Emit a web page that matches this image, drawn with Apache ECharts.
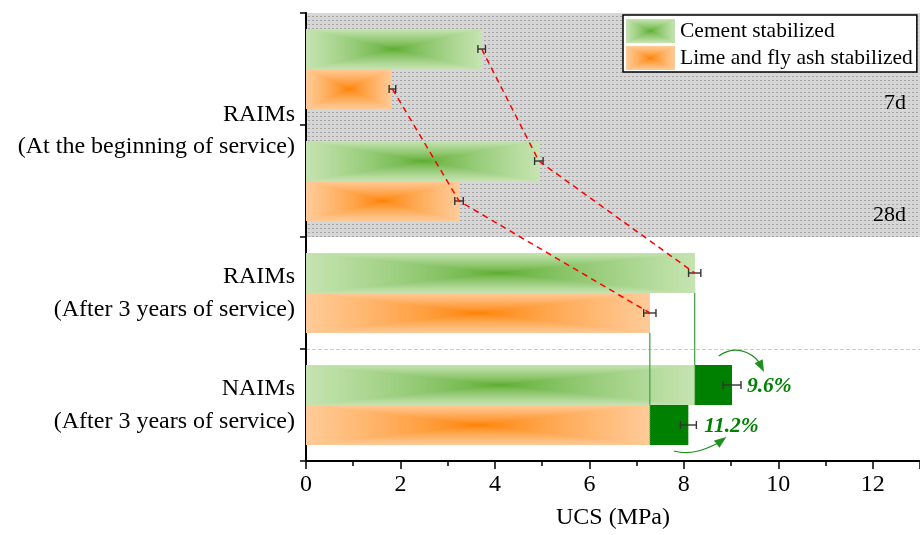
<!DOCTYPE html>
<html>
<head>
<meta charset="utf-8">
<script src="https://cdn.jsdelivr.net/npm/echarts@6/dist/echarts.min.js"></script>
<style>
  html, body { margin: 0; padding: 0; background: #fff; }
  #chart { width: 920px; height: 535px; }
</style>
</head>
<body>
<div id="chart"></div>
<script>
// ---- data ----
const categories = ['RAIMs 7d', 'RAIMs 28d', 'RAIMs 3 years', 'NAIMs 3 years'];
const categoryLabels = ['', '', 'RAIMs\n(After 3 years of service)', 'NAIMs\n(After 3 years of service)'];
const groupLabel = 'RAIMs\n(At the beginning of service)';
const curingAges = ['7d', '28d'];
const seriesNames = ['Cement stabilized', 'Lime and fly ash stabilized'];
const cementUCS = [3.72, 4.93, 8.23, 9.02];
const cementSD = [0.08, 0.09, 0.13, 0.19];
const limeUCS = [1.83, 3.24, 7.28, 8.095];
const limeSD = [0.07, 0.09, 0.13, 0.17];
// NAIMs (index 3) is compared with RAIMs after 3 years of service (index 2)
const compareWith = [null, null, null, 2];
const xMin = 0, xMax = 13, xStep = 2;

// ---- styling ----
const FONT = '"Liberation Serif", "Times New Roman", serif';
const BAR_FRAC = 0.357;          // each bar's share of a category band
const GAIN_GREEN = '#008000';
const palettes = [
  { center: [90, 172, 46], edge: [198, 228, 178] },   // cement
  { center: [255, 128, 0], edge: [255, 203, 153] }    // lime & fly ash
];

// rectangular (pyramid) gradient: darkest in the middle, fading to every edge
function boxGradient(pal, w, h) {
  const cv = document.createElement('canvas');
  cv.width = w; cv.height = h;
  const ctx = cv.getContext('2d');
  const img = ctx.createImageData(w, h);
  for (let y = 0; y < h; y++) {
    for (let x = 0; x < w; x++) {
      const u = Math.abs((x + 0.5) / w * 2 - 1);
      const v = Math.abs((y + 0.5) / h * 2 - 1);
      const t = Math.pow(Math.max(u, v), 0.75);
      const k = (y * w + x) * 4;
      for (let c = 0; c < 3; c++) {
        img.data[k + c] = Math.round(pal.center[c] + (pal.edge[c] - pal.center[c]) * t);
      }
      img.data[k + 3] = 255;
    }
  }
  ctx.putImageData(img, 0, 0);
  return cv;
}
const barImages = palettes.map(p => boxGradient(p, 240, 48));
const legendIcons = palettes.map(p => boxGradient(p, 49, 24).toDataURL());

// dotted grey fill for the early-age (7d / 28d) region
function dotPattern() {
  const cv = document.createElement('canvas');
  cv.width = 4; cv.height = 4;
  const ctx = cv.getContext('2d');
  ctx.fillStyle = '#d6d6d6';
  ctx.fillRect(0, 0, 4, 4);
  ctx.fillStyle = '#a4a4a4';
  ctx.fillRect(0, 0, 2, 1);
  return cv;
}
const dotFill = { image: dotPattern(), repeat: 'repeat' };

const materials = [
  { vals: cementUCS, sd: cementSD },
  { vals: limeUCS, sd: limeSD }
];

function seriesData(m) {
  const { vals, sd } = materials[m];
  return categories.map((_, i) => [
    i, vals[i], sd[i], compareWith[i] == null ? vals[i] : vals[compareWith[i]]
  ]);
}

// y pixel of a bar's top edge: cement sits above the band centre, lime below
function barTop(api, i, m) {
  const yc = api.coord([0, i])[1];
  const h = api.size([0, 1])[1] * BAR_FRAC;
  return { y: m === 0 ? yc - h : yc, h: h };
}

function errorBar(x1, x2, yc) {
  const cap = 4;
  const st = { stroke: '#333', lineWidth: 1.4 };
  return [
    { type: 'line', shape: { x1: x1, y1: yc, x2: x2, y2: yc }, style: st },
    { type: 'line', shape: { x1: x1, y1: yc - cap, x2: x1, y2: yc + cap }, style: st },
    { type: 'line', shape: { x1: x2, y1: yc - cap, x2: x2, y2: yc + cap }, style: st }
  ];
}

function barRenderer(m) {
  return function (params, api) {
    const i = api.value(0), val = api.value(1), sd = api.value(2), ref = api.value(3);
    const b = barTop(api, i, m);
    const x0 = api.coord([0, i])[0];
    const xRef = api.coord([ref, i])[0];
    const xVal = api.coord([val, i])[0];
    const children = [{
      type: 'image',
      style: { image: barImages[m], x: x0, y: b.y, width: xRef - x0, height: b.h }
    }];
    if (xVal - xRef > 0.5) {
      children.push({
        type: 'rect',
        shape: { x: xRef, y: b.y, width: xVal - xRef, height: b.h },
        style: { fill: GAIN_GREEN }
      });
    }
    const yc = b.y + b.h / 2;
    errorBar(api.coord([val - sd, i])[0], api.coord([val + sd, i])[0], yc)
      .forEach(e => children.push(e));
    return { type: 'group', children: children };
  };
}

// red dashed trend through the RAIMs means (7d -> 28d -> after 3 years)
function trendRenderer(params, api) {
  const m = api.value(0);
  const vals = materials[m].vals;
  const pts = [];
  for (let i = 0; i < 3; i++) {
    const b = barTop(api, i, m);
    pts.push([api.coord([vals[i], i])[0], b.y + b.h / 2]);
  }
  return {
    type: 'polyline',
    shape: { points: pts },
    style: { stroke: '#ff0000', lineWidth: 1.5, lineDash: [6, 4.5], fill: null }
  };
}

function arrowHead(tip, from, color) {
  const dx = tip[0] - from[0], dy = tip[1] - from[1];
  const len = Math.hypot(dx, dy);
  const ux = dx / len, uy = dy / len;
  const L = 12, W = 4.5;
  const bx = tip[0] - ux * L, by = tip[1] - uy * L;
  return {
    type: 'polygon',
    shape: { points: [tip, [bx - uy * W, by + ux * W], [bx + uy * W, by - ux * W]] },
    style: { fill: color }
  };
}

// labels, guide lines and gain arrows
function annotationRenderer(params, api) {
  const children = [];
  const xLeft = api.coord([xMin, 0])[0];
  const xRight = api.coord([xMax, 0])[0];
  const band = api.size([0, 1])[1];

  // group label spanning the 7d and 28d bands
  const yBoundary = (api.coord([0, 0])[1] + api.coord([0, 1])[1]) / 2;
  children.push({
    type: 'text',
    style: {
      text: groupLabel, x: xLeft - 11, y: yBoundary + 6,
      align: 'right', verticalAlign: 'middle',
      fontFamily: FONT, fontSize: 24, lineHeight: 32, fill: '#000'
    }
  });

  // curing age tags
  curingAges.forEach((t, i) => {
    children.push({
      type: 'text',
      style: {
        text: t, x: xRight - 14, y: api.coord([0, i])[1] + band * 0.305,
        align: 'right', verticalAlign: 'middle',
        fontFamily: FONT, fontSize: 22, fill: '#000'
      }
    });
  });

  // gains of NAIMs over RAIMs after 3 years
  categories.forEach((_, i) => {
    const r = compareWith[i];
    if (r == null) return;
    materials.forEach((mat, m) => {
      const gain = (mat.vals[i] / mat.vals[r] - 1) * 100;
      const xRef = api.coord([mat.vals[r], i])[0];
      const xVal = api.coord([mat.vals[i], i])[0];
      const xErr = api.coord([mat.vals[i] + mat.sd[i], i])[0];
      const bRef = barTop(api, r, m);
      const b = barTop(api, i, m);
      // projection of the RAIMs value down to the NAIMs bar
      children.push({
        type: 'line',
        shape: { x1: xRef, y1: bRef.y + bRef.h, x2: xRef, y2: b.y },
        style: { stroke: '#3f9f3f', lineWidth: 1.2 }
      });
      children.push({
        type: 'line',
        shape: { x1: xRef, y1: b.y, x2: xRef, y2: b.y + b.h },
        style: { stroke: '#9a9a9a', lineWidth: 1, lineDash: [1, 1] }
      });
      children.push({
        type: 'text',
        style: {
          text: gain.toFixed(1) + '%', x: xErr + (m === 0 ? 6 : 8), y: b.y + b.h / 2 + 1,
          align: 'left', verticalAlign: 'middle',
          fontFamily: FONT, fontSize: 21.5, fontStyle: 'italic', fontWeight: 'bold', fill: GAIN_GREEN
        }
      });
      if (m === 0) {
        const yT = b.y;
        const p0 = [xRef + 24, yT - 9];
        const tip = [xVal + 32, yT + 7];
        children.push({
          type: 'bezierCurve',
          shape: {
            x1: p0[0], y1: p0[1], cpx1: xRef + 40, cpy1: yT - 20,
            cpx2: xVal + 18, cpy2: yT - 14, x2: xVal + 28, y2: yT - 2
          },
          style: { stroke: '#1f8f1f', lineWidth: 1.2, fill: null }
        });
        children.push(arrowHead(tip, [xVal + 26, yT - 5], '#1f8f1f'));
      } else {
        const yB = b.y + b.h;
        const p0 = [xRef + 24, yB + 6];
        const tip = [xVal + 38, yB - 8];
        children.push({
          type: 'bezierCurve',
          shape: {
            x1: p0[0], y1: p0[1], cpx1: xRef + 40, cpy1: yB + 10,
            cpx2: xVal + 14, cpy2: yB + 6, x2: xVal + 30, y2: yB - 2
          },
          style: { stroke: '#1f8f1f', lineWidth: 1.2, fill: null }
        });
        children.push(arrowHead(tip, [xVal + 26, yB + 1], '#1f8f1f'));
      }
    });
  });
  return { type: 'group', children: children };
}

const chart = echarts.init(document.getElementById('chart'), null, { renderer: 'canvas' });
chart.setOption({
  animation: false,
  backgroundColor: '#fff',
  textStyle: { fontFamily: FONT },
  grid: { left: 306, right: 0, top: 13, bottom: 73, containLabel: false },
  legend: {
    orient: 'vertical', left: 623, top: 15,
    padding: [4, 4, 2, 3], itemGap: 3, itemWidth: 49, itemHeight: 24,
    backgroundColor: '#fff', borderColor: '#000', borderWidth: 1.5,
    selectedMode: false,
    textStyle: { fontFamily: FONT, fontSize: 21.5, color: '#000' },
    data: seriesNames.map((n, m) => ({ name: n, icon: 'image://' + legendIcons[m] }))
  },
  xAxis: {
    type: 'value', min: xMin, max: xMax, interval: xStep,
    name: 'UCS (MPa)', nameLocation: 'middle', nameGap: 45,
    nameTextStyle: { fontFamily: FONT, fontSize: 24, color: '#000' },
    axisLine: { show: true, lineStyle: { color: '#000', width: 2 } },
    axisTick: { show: true, length: 8, lineStyle: { color: '#000', width: 1.5 } },
    minorTick: { show: true, splitNumber: 2, length: 5, lineStyle: { color: '#000', width: 1.5 } },
    axisLabel: { fontFamily: FONT, fontSize: 24, color: '#000', margin: 12, showMaxLabel: false },
    splitLine: { show: false }
  },
  yAxis: {
    type: 'category', inverse: true, data: categories,
    axisLine: { show: true, lineStyle: { color: '#000', width: 2 } },
    axisTick: { show: true, length: 6, lineStyle: { color: '#000', width: 1.5 } },
    axisLabel: {
      fontFamily: FONT, fontSize: 24, lineHeight: 33, color: '#000', margin: 11,
      formatter: (v, idx) => categoryLabels[idx]
    },
    splitArea: { show: true, areaStyle: { color: [dotFill, dotFill, 'rgba(0,0,0,0)', 'rgba(0,0,0,0)'] } },
    splitLine: { show: true, lineStyle: { color: ['rgba(0,0,0,0)', 'rgba(0,0,0,0)', 'rgba(0,0,0,0)', '#cccccc', 'rgba(0,0,0,0)'], type: [4, 2], width: 1 } }
  },
  series: [
    {
      name: seriesNames[0], type: 'custom', renderItem: barRenderer(0),
      encode: { x: 1, y: 0 }, data: seriesData(0), z: 3,
      itemStyle: { color: '#5aae30' }
    },
    {
      name: seriesNames[1], type: 'custom', renderItem: barRenderer(1),
      encode: { x: 1, y: 0 }, data: seriesData(1), z: 3,
      itemStyle: { color: '#ff8000' }
    },
    {
      name: 'trend', type: 'custom', renderItem: trendRenderer,
      data: [[0], [1]], z: 5, silent: true
    },
    {
      name: 'annotations', type: 'custom', renderItem: annotationRenderer,
      data: [[0]], z: 4, silent: true
    }
  ]
});
</script>
</body>
</html>
